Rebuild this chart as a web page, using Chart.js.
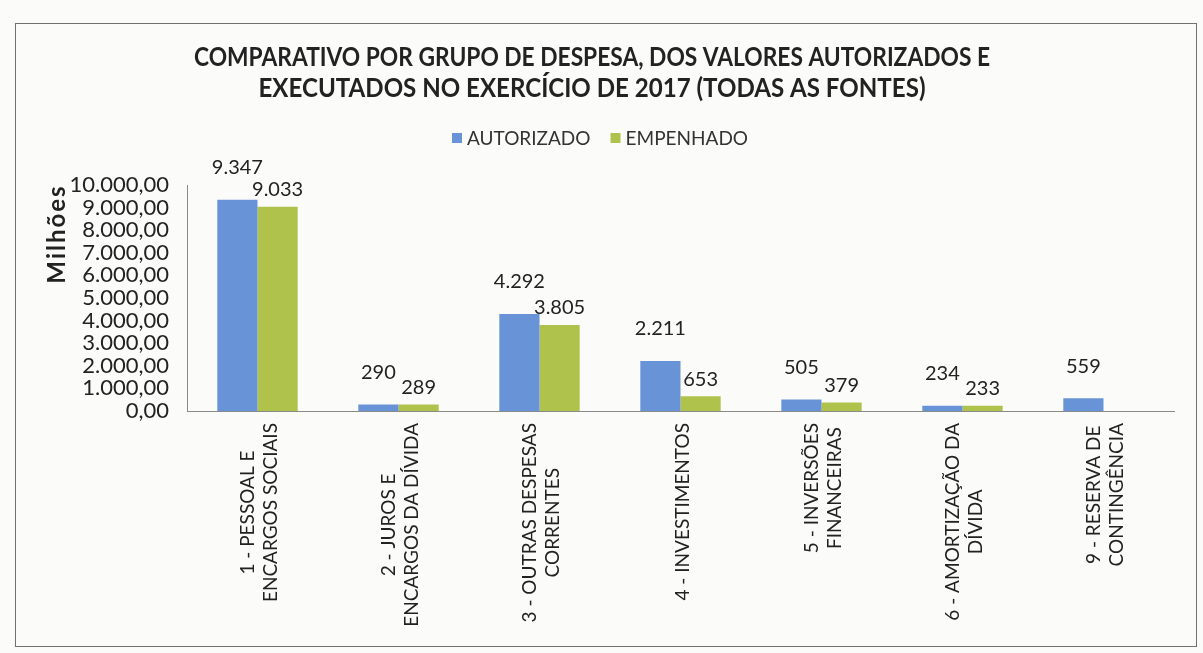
<!DOCTYPE html>
<html>
<head>
<meta charset="utf-8">
<script src="https://cdn.jsdelivr.net/npm/chart.js@4"></script>
<style>
  html, body { margin: 0; padding: 0; background: #fbfbfa; }
  #wrap { width: 1203px; height: 653px; position: relative; }
  canvas { display: block; }
</style>
</head>
<body>
<div id="wrap"><canvas id="c" width="1203" height="653"></canvas></div>
<script>
const titleLines = ["COMPARATIVO POR GRUPO DE DESPESA, DOS VALORES AUTORIZADOS E", "EXECUTADOS NO EXERCÍCIO DE 2017 (TODAS AS FONTES)"];
const yAxisTitle = "Milhões";
const seriesNames = ["AUTORIZADO", "EMPENHADO"];
const categories = [
  ["1 - PESSOAL E", "ENCARGOS SOCIAIS"],
  ["2 - JUROS E", "ENCARGOS DA DÍVIDA"],
  ["3 - OUTRAS DESPESAS", "CORRENTES"],
  ["4 - INVESTIMENTOS"],
  ["5 - INVERSÕES", "FINANCEIRAS"],
  ["6 - AMORTIZAÇÃO DA", "DÍVIDA"],
  ["9 - RESERVA DE", "CONTINGÊNCIA"]
];
const autorizado = [9347, 290, 4292, 2211, 505, 234, 559];
const empenhado = [9033, 289, 3805, 653, 379, 233, null];
const yMin = 0, yMax = 10000, yStep = 1000;

const BLUE = '#6893d6';
const GREEN = '#afc24c';
const TEXT = '#222222';
const FONT = 'Lato, "Open Sans", sans-serif';

function fmtThousands(v) {
  const s = Math.round(v).toString();
  return s.replace(/\B(?=(\d{3})+(?!\d))/g, '.');
}
function fmtTick(v) {
  return fmtThousands(v) + ',00';
}

const decorPlugin = {
  id: 'decor',
  afterDraw(chart) {
    const ctx = chart.ctx;
    const ca = chart.chartArea;
    ctx.save();
    // outer frame
    ctx.strokeStyle = '#707070';
    ctx.lineWidth = 1;
    ctx.strokeRect(15.5, 23.5, 1181, 623);

    // title (condensed like the original)
    ctx.fillStyle = TEXT;
    ctx.font = 'bold 26px ' + FONT;
    ctx.textAlign = 'center';
    ctx.textBaseline = 'middle';
    ctx.fillText(titleLines[0], 592, 58, 796);
    ctx.fillText(titleLines[1], 592, 89, 667);

    // legend
    ctx.font = '19px ' + FONT;
    const colors = [BLUE, GREEN];
    const box = 10, gap = 5, spacing = 20;
    const widths = seriesNames.map(n => ctx.measureText(n).width);
    let lx = 452;
    const ly = 138;
    ctx.textAlign = 'left';
    seriesNames.forEach((n, i) => {
      ctx.fillStyle = colors[i];
      ctx.fillRect(lx, ly - box / 2, box, box);
      ctx.fillStyle = '#333';
      ctx.fillText(n, lx + box + gap, ly + 1);
      lx += box + gap + widths[i] + spacing;
    });

    // y axis title
    ctx.save();
    ctx.translate(57, 234);
    ctx.rotate(-Math.PI / 2);
    ctx.font = 'bold 24px ' + FONT;
    ctx.letterSpacing = '2px';
    ctx.textAlign = 'center';
    ctx.fillStyle = TEXT;
    ctx.fillText(yAxisTitle, 0, 0);
    ctx.restore();

    // category labels (rotated, lines centred within block)
    const xs = chart.scales.x;
    ctx.font = '19px ' + FONT;
    ctx.fillStyle = TEXT;
    ctx.textAlign = 'center';
    ctx.textBaseline = 'middle';
    categories.forEach((lines, i) => {
      const x = xs.getPixelForValue(i);
      const W = Math.max(...lines.map(l => ctx.measureText(l).width));
      const cy = ca.bottom + 12 + W / 2;
      const n = lines.length;
      lines.forEach((line, k) => {
        const lx2 = x + 2 + (k - (n - 1) / 2) * 23;
        ctx.save();
        ctx.translate(lx2, cy);
        ctx.rotate(-Math.PI / 2);
        ctx.fillText(line, 0, 0);
        ctx.restore();
      });
    });

    // data labels
    ctx.font = '20px ' + FONT;
    ctx.fillStyle = TEXT;
    ctx.textAlign = 'center';
    ctx.textBaseline = 'middle';
    const offsets = [32, 17];
    chart.data.datasets.forEach((ds, di) => {
      const meta = chart.getDatasetMeta(di);
      meta.data.forEach((el, i) => {
        const v = ds.data[i];
        if (v === null || v === undefined) return;
        ctx.fillText(fmtThousands(v), el.x, el.y - offsets[di]);
      });
    });
    ctx.restore();
  }
};

function build() {
  new Chart(document.getElementById('c'), {
    type: 'bar',
    data: {
      labels: categories,
      datasets: [
        { label: seriesNames[0], data: autorizado, backgroundColor: BLUE },
        { label: seriesNames[1], data: empenhado, backgroundColor: GREEN }
      ]
    },
    options: {
      responsive: false,
      animation: false,
      events: [],
      layout: { padding: { top: 185, right: 29, left: 0, bottom: 0 } },
      plugins: { legend: { display: false }, title: { display: false }, tooltip: { enabled: false } },
      datasets: { bar: { categoryPercentage: 0.57, barPercentage: 1.0 } },
      scales: {
        x: {
          grid: { display: false, drawTicks: false },
          border: { display: true, color: '#8a8a8a', width: 1 },
          ticks: { display: false },
          afterFit(scale) { scale.height = 653 - 411; }
        },
        y: {
          min: yMin, max: yMax,
          grid: { display: false, drawTicks: false },
          border: { display: true, color: '#8a8a8a', width: 1 },
          ticks: {
            stepSize: yStep, autoSkip: false, padding: 18,
            color: TEXT,
            font: { family: FONT, size: 22 },
            callback: (v) => fmtTick(v)
          },
          afterFit(scale) { scale.width = 187; }
        }
      }
    },
    plugins: [decorPlugin]
  });
}

const loads = ['19px Lato', '22px Lato', 'bold 26px Lato', 'bold 24px Lato'].map(f => document.fonts.load(f).catch(() => null));
Promise.race([Promise.all(loads), new Promise(r => setTimeout(r, 1500))]).then(build);
</script>
</body>
</html>
